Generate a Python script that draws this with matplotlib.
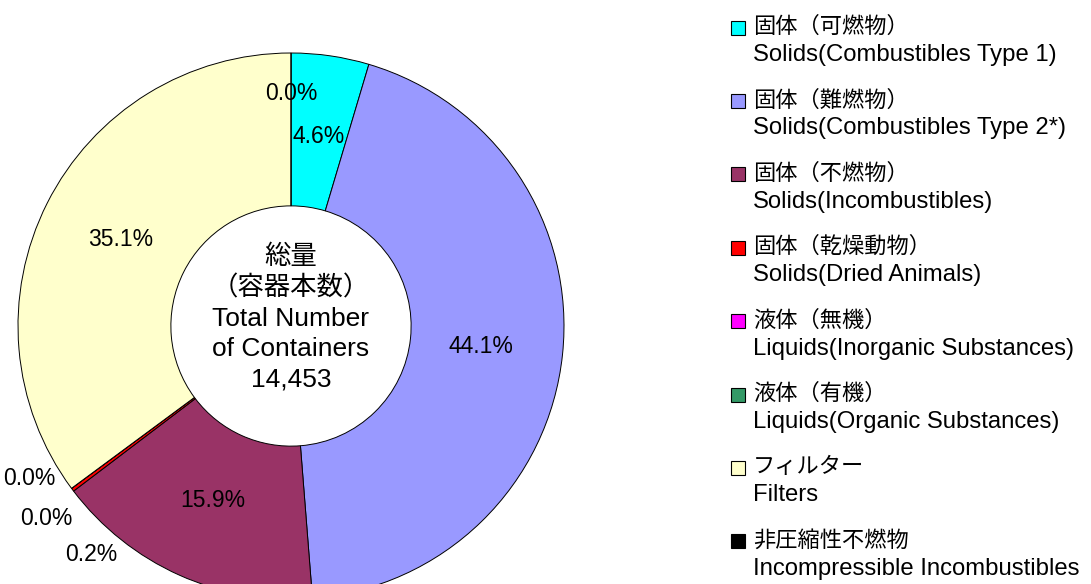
import numpy as np
import matplotlib
matplotlib.use("Agg")
import matplotlib.pyplot as plt
from matplotlib.patches import Rectangle

plt.rcParams['font.family'] = ['Liberation Sans', 'Noto Sans CJK JP', 'DejaVu Sans']

# data
labels_jp = ['固体（可燃物）', '固体（難燃物）', '固体（不燃物）', '固体（乾燥動物）',
             '液体（無機）', '液体（有機）', 'フィルター', '非圧縮性不燃物']
labels_en = ['Solids(Combustibles Type 1)', 'Solids(Combustibles Type 2*)',
             'Solids(Incombustibles)', 'Solids(Dried Animals)',
             'Liquids(Inorganic Substances)', 'Liquids(Organic Substances)',
             'Filters', 'Incompressible Incombustibles']
shares = [4.6, 44.1, 15.9, 0.2, 0.0, 0.0, 35.1, 0.0]
colors = ['#00FFFF', '#9999FF', '#993366', '#FF0000', '#FF00FF', '#339966', '#FFFFCC', '#000000']
center_text = '総量\n（容器本数）\nTotal Number\nof Containers\n14,453'

W, H = 1091, 584
fig = plt.figure(figsize=(W / 100, H / 100), dpi=100)
ax = fig.add_axes([0, 0, 1, 1])
ax.axis('off')

# donut geometry in pixels (radius 1 = 273 px)
R = 273.0
cx, cy = 291.0, H - 326.0

wedges, _ = ax.pie(shares, colors=colors, startangle=90, counterclock=False,
                   radius=1.0, wedgeprops=dict(width=0.56, edgecolor='black', linewidth=0.7))
ax.set_xlim(-cx / R, (W - cx) / R)
ax.set_ylim(-cy / R, (H - cy) / R)
ax.set_aspect('auto')

# label placement: (radius, angle shift) tweaks for the crowded small slices
tweak = {3: (1.11, 12.0), 4: (1.14, 1.8), 5: (1.11, -6.2), 7: (0.85, 0.0)}
for i, (w, v) in enumerate(zip(wedges, shares)):
    mid = (w.theta1 + w.theta2) / 2
    r, shift = tweak.get(i, (0.7, 0.0))
    a = np.deg2rad(mid + shift)
    ax.text(r * np.cos(a), r * np.sin(a), f'{v:.1f}%', ha='center', va='center',
            fontsize=16.5, color='black')

ax.text(0, 0.03, center_text, ha='center', va='center', fontsize=19, linespacing=1.33)

# legend
step = 73.4
for i in range(len(labels_jp)):
    yc = 27.5 + i * step
    fig.add_artist(Rectangle((731 / W, 1 - (yc + 7) / H), 14 / W, 14 / H,
                             transform=fig.transFigure, facecolor=colors[i],
                             edgecolor='black', linewidth=0.8))
    fig.text(753 / W, 1 - yc / H, labels_jp[i], ha='left', va='center', fontsize=16)
    fig.text(753 / W, 1 - (yc + 27.5) / H, labels_en[i], ha='left', va='center', fontsize=17.2)

fig.savefig('out.png', dpi=100)
